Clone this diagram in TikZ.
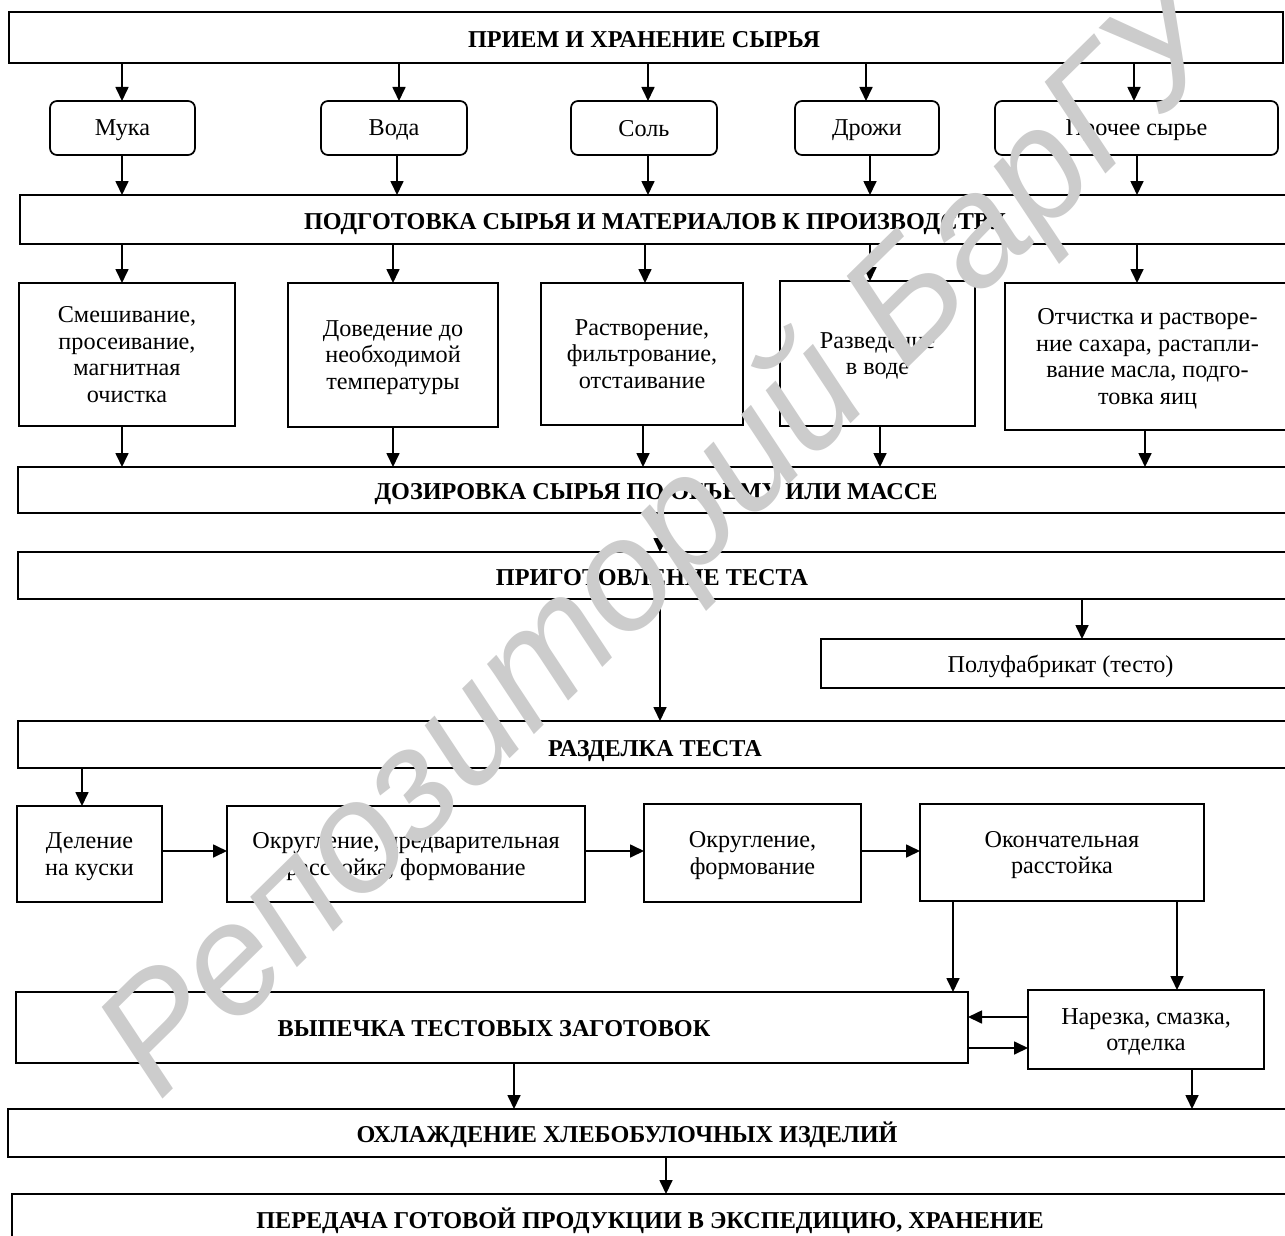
\documentclass[tikz,border=0pt]{standalone}
\usepackage{fontspec}
\setmainfont{Liberation Serif}
\newfontfamily\wmfont{Liberation Sans}
\usetikzlibrary{arrows.meta}
\begin{document}
\begin{tikzpicture}[x=1pt,y=-1pt,
  box/.style={draw, line width=1.7pt, inner sep=0pt, outer sep=0pt, align=center,
    text depth=0pt, font=\fontsize{24.2}{26.8}\selectfont},
  rbox/.style={box, rounded corners=7pt},
  head/.style={inner sep=0pt, text height=16pt, text depth=0pt,
    font=\fontsize{24.2}{26.8}\selectfont\bfseries},
  arr/.style={line width=1.7pt, -{Triangle[length=14pt,width=13pt]}},
]
\useasboundingbox (0,0) rectangle (1285,1236);
\fill[white] (0,0) rectangle (1285,1236);
\clip (0,0) rectangle (1285,1236);

% ---- row 1
\node[box, minimum width=1274pt, minimum height=51pt] (priem) at (646,37.5) {};
\node[head] (priemT) at (644,40) {ПРИЕМ И ХРАНЕНИЕ СЫРЬЯ};

% ---- row 2 (raw materials)
\node[rbox, minimum width=145pt, minimum height=54pt] (muka) at (122.5,128) {Мука};
\node[rbox, minimum width=146pt, minimum height=54pt] (voda) at (394,128) {Вода};
\node[rbox, minimum width=146pt, minimum height=54pt] (sol) at (644,128) {Соль};
\node[rbox, minimum width=144pt, minimum height=54pt] (drozh) at (867,128) {Дрожи};
\node[rbox, minimum width=283pt, minimum height=54pt] (proch) at (1136.5,128) {Прочее сырье};

% ---- row 3
\node[box, minimum width=1280pt, minimum height=49pt] (podg) at (660,219.5) {};
\node[head] (podgT) at (655,221) {ПОДГОТОВКА СЫРЬЯ И МАТЕРИАЛОВ К ПРОИЗВОДСТВУ};

% ---- row 4
\node[box, minimum width=216pt, minimum height=143pt] (smesh) at (127,354.5)
  {Смешивание,\\просеивание,\\магнитная\\очистка};
\node[box, minimum width=210pt, minimum height=144pt] (dovod) at (393,355)
  {Доведение до\\необходимой\\температуры};
\node[box, minimum width=202pt, minimum height=142pt] (rastv) at (642,354)
  {Растворение,\\фильтрование,\\отстаивание};
\node[box, minimum width=195pt, minimum height=145pt] (razved) at (877.5,353.5)
  {Разведение\\в воде};
\node[box, minimum width=285pt, minimum height=147pt] (otch) at (1147.5,356.5)
  {Отчистка и растворе-\\ние сахара, растапли-\\вание масла, подго-\\товка яиц};

% ---- row 5
\node[box, minimum width=1282pt, minimum height=46pt] (doz) at (659,490) {};
\node[head] (dozT) at (656,491) {ДОЗИРОВКА СЫРЬЯ ПО ОБЪЕМУ ИЛИ МАССЕ};

\node[box, minimum width=1282pt, minimum height=47pt] (prig) at (659,575.5) {};
\node[head] (prigT) at (652,577) {ПРИГОТОВЛЕНИЕ ТЕСТА};

\node[box, minimum width=479pt, minimum height=49pt] (polu) at (1060.5,663.5) {Полуфабрикат (тесто)};

\node[box, minimum width=1282pt, minimum height=47pt] (razd) at (659,744.5) {};
\node[head] (razdT) at (655,748) {РАЗДЕЛКА ТЕСТА};

% ---- row 6
\node[box, minimum width=145pt, minimum height=96pt] (delen) at (89.5,854) {Деление\\на куски};
\node[box, minimum width=358pt, minimum height=96pt] (okr1) at (406,854) {Округление, предварительная\\расстойка, формование};
\node[box, minimum width=217pt, minimum height=98pt] (okr2) at (752.5,853) {Округление,\\формование};
\node[box, minimum width=284pt, minimum height=97pt] (okon) at (1062,852.5) {Окончательная\\расстойка};

% ---- row 7
\node[box, minimum width=952pt, minimum height=71pt] (vyp) at (492,1027.5) {};
\node[head] (vypT) at (494,1028) {ВЫПЕЧКА ТЕСТОВЫХ ЗАГОТОВОК};
\node[box, minimum width=236pt, minimum height=79pt] (narez) at (1146,1029.5) {Нарезка, смазка,\\отделка};

% ---- row 8
\node[box, minimum width=1292pt, minimum height=48pt] (ohl) at (654,1133) {};
\node[head] (ohlT) at (627,1134) {ОХЛАЖДЕНИЕ ХЛЕБОБУЛОЧНЫХ ИЗДЕЛИЙ};

\node[box, minimum width=1288pt, minimum height=60pt] (pered) at (656,1224) {};
\node[head] (peredT) at (650,1220) {ПЕРЕДАЧА ГОТОВОЙ ПРОДУКЦИИ В ЭКСПЕДИЦИЮ, ХРАНЕНИЕ};

% ---- connectors
\draw[arr] (priem.south -| 122,0) -- (muka.north -| 122,0);
\draw[arr] (priem.south -| 399,0) -- (voda.north -| 399,0);
\draw[arr] (priem.south -| 648,0) -- (sol.north -| 648,0);
\draw[arr] (priem.south -| 866,0) -- (drozh.north -| 866,0);
\draw[arr] (priem.south -| 1134,0) -- (proch.north -| 1134,0);

\draw[arr] (muka.south -| 122,0) -- (podg.north -| 122,0);
\draw[arr] (voda.south -| 397,0) -- (podg.north -| 397,0);
\draw[arr] (sol.south -| 648,0) -- (podg.north -| 648,0);
\draw[arr] (drozh.south -| 870,0) -- (podg.north -| 870,0);
\draw[arr] (proch.south -| 1137,0) -- (podg.north -| 1137,0);

\draw[arr] (podg.south -| 122,0) -- (smesh.north -| 122,0);
\draw[arr] (podg.south -| 393,0) -- (dovod.north -| 393,0);
\draw[arr] (podg.south -| 645,0) -- (rastv.north -| 645,0);
\draw[arr] (podg.south -| 870,0) -- (razved.north -| 870,0);
\draw[arr] (podg.south -| 1137,0) -- (otch.north -| 1137,0);

\draw[arr] (smesh.south -| 122,0) -- (doz.north -| 122,0);
\draw[arr] (dovod.south -| 393,0) -- (doz.north -| 393,0);
\draw[arr] (rastv.south -| 643,0) -- (doz.north -| 643,0);
\draw[arr] (razved.south -| 880,0) -- (doz.north -| 880,0);
\draw[arr] (otch.south -| 1145,0) -- (doz.north -| 1145,0);

\draw[arr] (doz.south -| 660,0) -- (prig.north -| 660,0);
\draw[arr] (prig.south -| 1082,0) -- (polu.north -| 1082,0);
\draw[arr] (prig.south -| 660,0) -- (razd.north -| 660,0);
\draw[arr] (razd.south -| 82,0) -- (delen.north -| 82,0);

\draw[arr] (delen.east |- 0,851) -- (okr1.west |- 0,851);
\draw[arr] (okr1.east |- 0,851) -- (okr2.west |- 0,851);
\draw[arr] (okr2.east |- 0,851) -- (okon.west |- 0,851);

\draw[arr] (okon.south -| 953,0) -- (vyp.north -| 953,0);
\draw[arr] (okon.south -| 1177,0) -- (narez.north -| 1177,0);
\draw[arr] (narez.west |- 0,1017) -- (vyp.east |- 0,1017);
\draw[arr] (vyp.east |- 0,1048) -- (narez.west |- 0,1048);

\draw[arr] (vyp.south -| 514,0) -- (ohl.north -| 514,0);
\draw[arr] (narez.south -| 1192,0) -- (ohl.north -| 1192,0);
\draw[arr] (ohl.south -| 666,0) -- (pered.north -| 666,0);

% ---- watermark
\node[rotate=44.5, text=black!20, inner sep=0pt,
  font=\wmfont\itshape\fontsize{157}{157}\selectfont] (wm) at (668,545) {Репозиторий БарГУ};
\end{tikzpicture}
\end{document}
